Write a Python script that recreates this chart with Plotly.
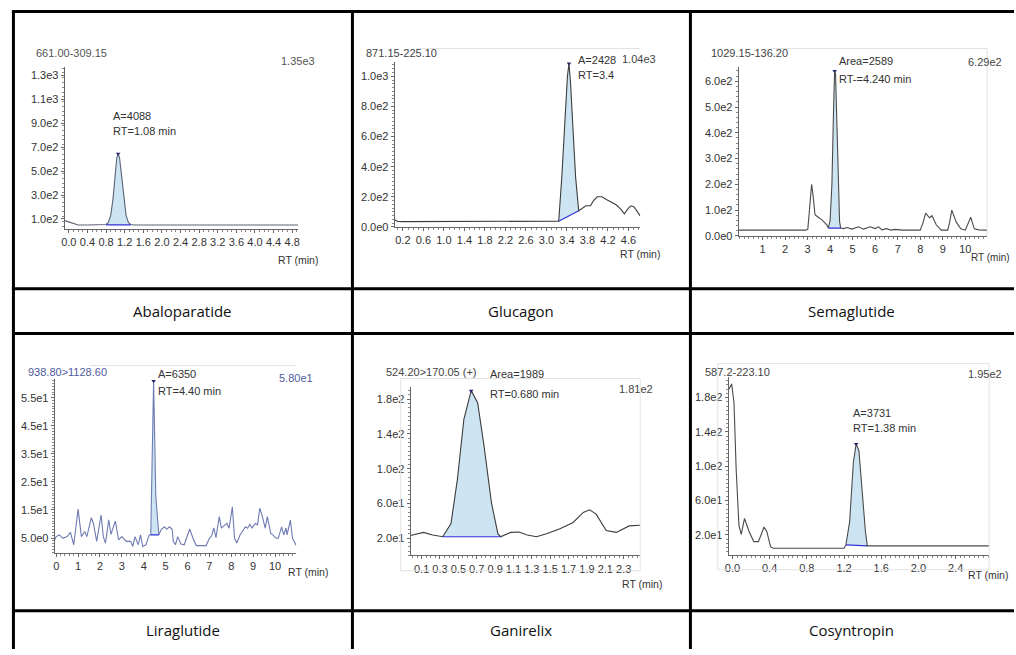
import plotly.graph_objects as go

W, H = 1016, 655

# ---------------- data ----------------
names = ["Abaloparatide", "Glucagon", "Semaglutide", "Liraglutide", "Ganirelix", "Cosyntropin"]
transitions = ["661.00-309.15", "871.15-225.10", "1029.15-136.20", "938.80>1128.60", "524.20>170.05 (+)", "587.2-223.10"]
max_labels = ["1.35e3", "1.04e3", "6.29e2", "5.80e1", "1.81e2", "1.95e2"]
peak_text = [["A=4088", "RT=1.08 min"], ["A=2428", "RT=3.4"], ["Area=2589", "RT-=4.240 min"],
             ["A=6350", "RT=4.40 min"], ["Area=1989", "RT=0.680 min"], ["A=3731", "RT=1.38 min"]]

abalo_rt = [-0.09, 0.0, 0.1, 0.2, 0.4, 0.6, 0.75, 0.80, 0.85, 0.90, 0.95, 1.00, 1.03, 1.06, 1.09, 1.13, 1.18, 1.23,
            1.28, 1.33, 1.40, 1.6, 2.0, 2.4, 2.8, 3.2, 3.6, 4.0, 4.4, 4.8, 4.93]
abalo_int = [86, 75, 60, 50, 50, 50, 50, 54, 71, 130, 270, 474, 609, 645, 609, 474, 270, 130,
             71, 54, 50, 50, 50, 50, 50, 50, 50, 50, 50, 50, 50]

gluc_rt = [0.04, 0.1, 0.2, 0.6, 1.0, 1.4, 1.8, 2.2, 2.6, 3.0, 3.24, 3.30, 3.36, 3.41, 3.44, 3.47, 3.52, 3.57, 3.63,
           3.70, 3.77, 3.86, 3.92, 3.99, 4.08, 4.17, 4.26, 4.36, 4.45, 4.52, 4.60, 4.65, 4.71, 4.77, 4.83]
gluc_int = [48, 36, 35, 35, 35, 35, 35, 35, 35, 35, 38, 330, 700, 1000, 1085, 960, 640, 330, 107,
            122, 140, 140, 175, 200, 200, 182, 165, 147, 118, 87, 125, 140, 133, 100, 73]

sema_rt = [-0.06, 1.0, 2.0, 2.9, 3.01, 3.1, 3.18, 3.25, 3.33, 3.5, 3.63, 3.85, 3.92, 4.00, 4.08, 4.15, 4.20, 4.24,
           4.30, 4.36, 4.42, 4.47, 4.6, 4.75, 4.97, 5.26, 5.48, 5.78, 6.0, 6.15, 6.3, 6.5, 6.7, 6.9, 7.2, 8.0,
           8.12, 8.24, 8.41, 8.52, 8.71, 8.93, 9.22, 9.3, 9.4, 9.6, 9.8, 10.0, 10.12, 10.24, 10.4, 10.6, 10.97]
sema_int = [22, 22, 22, 22, 25, 120, 200, 150, 82, 70, 63, 43, 30, 60, 200, 480, 640, 630,
            420, 150, 55, 30, 28, 32, 26, 35, 26, 35, 28, 35, 23, 28, 22, 25, 22, 22,
            50, 88, 70, 78, 43, 22, 22, 50, 100, 53, 27, 22, 45, 72, 27, 23, 22]

lira_rt = [-0.07, 0.0, 0.15, 0.3, 0.5, 0.65, 0.8, 1.0, 1.15, 1.3, 1.4, 1.6, 1.7, 1.85, 2.05, 2.15, 2.25, 2.4, 2.5,
           2.7, 2.85, 3.0, 3.2, 3.4, 3.5, 3.6, 3.75, 3.85, 3.95, 4.1, 4.25, 4.32, 4.45, 4.55, 4.69, 4.8, 4.95,
           5.05, 5.17, 5.3, 5.35, 5.45, 5.55, 5.7, 5.85, 6.1, 6.25, 6.4, 6.85, 7.0, 7.1, 7.2, 7.3, 7.45, 7.55,
           7.7, 7.8, 7.9, 8.05, 8.15, 8.25, 8.4, 8.5, 8.65, 8.75, 8.85, 8.95, 9.1, 9.2, 9.3, 9.4, 9.55, 9.65,
           9.8, 9.9, 10.05, 10.15, 10.3, 10.4, 10.5, 10.55, 10.7, 10.8, 10.97]
lira_int = [4.4, 5.5, 6.1, 4.9, 5.5, 7.0, 2.6, 15.3, 5.5, 7.3, 5.5, 12.2, 10.2, 3.8, 13.2, 5.5, 3.2, 11.5, 6.3,
            11.0, 4.3, 5.5, 3.8, 3.8, 2.0, 5.5, 2.6, 6.1, 2.0, 2.6, 6.1, 6.1, 61.0, 20.0, 6.1, 8.1, 9.0,
            8.1, 9.0, 8.1, 3.8, 2.6, 5.5, 2.9, 2.6, 8.2, 4.9, 2.3, 2.3, 4.9, 5.7, 8.6, 5.1, 12.6, 8.5,
            9.7, 10.2, 8.5, 16.1, 4.9, 3.2, 6.1, 7.3, 9.0, 8.5, 9.9, 8.6, 10.2, 9.7, 15.6, 13.3, 8.5, 12.6,
            6.7, 6.1, 4.9, 4.9, 9.0, 6.1, 8.5, 6.1, 11.4, 4.9, 2.3]

gani_rt = [-0.02, 0.12, 0.22, 0.33, 0.42, 0.49, 0.56, 0.64, 0.71, 0.78, 0.86, 0.93, 0.96, 1.07, 1.16, 1.25, 1.35,
           1.46, 1.60, 1.75, 1.86, 1.93, 2.00, 2.11, 2.22, 2.36, 2.48]
gani_int = [23, 26.5, 23.4, 21.5, 36.8, 88, 157, 190, 176, 126, 61, 25, 21.5, 26.5, 27, 23.4, 21.5,
            25, 30.5, 38, 49.5, 52.5, 47.6, 28.6, 26.5, 34, 34.8]

cosy_rt = [-0.036, -0.008, 0.017, 0.04, 0.07, 0.095, 0.13, 0.18, 0.23, 0.28, 0.34, 0.37, 0.41, 0.44, 0.8, 1.2,
           1.22, 1.26, 1.30, 1.33, 1.36, 1.39, 1.43, 1.45, 1.6, 2.0, 2.4, 2.76]
cosy_int = [190, 196, 174, 97, 31, 20.5, 39, 23.5, 12, 12, 29, 23.5, 6, 4.2, 4.2, 4.2,
            8.1, 35, 104, 126, 118, 77, 23.5, 7, 7, 7, 7, 7]

series_rt = [abalo_rt, gluc_rt, sema_rt, lira_rt, gani_rt, cosy_rt]
series_int = [abalo_int, gluc_int, sema_int, lira_int, gani_int, cosy_int]

# integration window (start rt, end rt) and baseline intensities at both ends
peak_window = [(0.80, 1.33), (3.24, 3.63), (3.92, 4.47), (4.32, 4.69), (0.33, 0.96), (1.22, 1.45)]
peak_base = [(50, 50), (38, 107), (30, 30), (6.1, 6.1), (21.5, 21.5), (8.1, 7)]

# axis tick values / labels
x_ticks = [[0.0, 0.4, 0.8, 1.2, 1.6, 2.0, 2.4, 2.8, 3.2, 3.6, 4.0, 4.4, 4.8],
           [0.2, 0.6, 1.0, 1.4, 1.8, 2.2, 2.6, 3.0, 3.4, 3.8, 4.2, 4.6],
           [1, 2, 3, 4, 5, 6, 7, 8, 9, 10],
           [0, 1, 2, 3, 4, 5, 6, 7, 8, 9, 10],
           [0.1, 0.3, 0.5, 0.7, 0.9, 1.1, 1.3, 1.5, 1.7, 1.9, 2.1, 2.3],
           [0.0, 0.4, 0.8, 1.2, 1.6, 2.0, 2.4]]
x_tick_text = [["0.0", "0.4", "0.8", "1.2", "1.6", "2.0", "2.4", "2.8", "3.2", "3.6", "4.0", "4.4", "4.8"],
               ["0.2", "0.6", "1.0", "1.4", "1.8", "2.2", "2.6", "3.0", "3.4", "3.8", "4.2", "4.6"],
               ["1", "2", "3", "4", "5", "6", "7", "8", "9", "10"],
               ["0", "1", "2", "3", "4", "5", "6", "7", "8", "9", "10"],
               ["0.1", "0.3", "0.5", "0.7", "0.9", "1.1", "1.3", "1.5", "1.7", "1.9", "2.1", "2.3"],
               ["0.0", "0.4", "0.8", "1.2", "1.6", "2.0", "2.4"]]
y_ticks = [[100, 300, 500, 700, 900, 1100, 1300],
           [0, 200, 400, 600, 800, 1000],
           [0, 100, 200, 300, 400, 500, 600],
           [5, 15, 25, 35, 45, 55],
           [20, 60, 100, 140, 180],
           [20, 60, 100, 140, 180]]
y_tick_text = [["1.0e2", "3.0e2", "5.0e2", "7.0e2", "9.0e2", "1.1e3", "1.3e3"],
               ["0.0e0", "2.0e2", "4.0e2", "6.0e2", "8.0e2", "1.0e3"],
               ["0.0e0", "1.0e2", "2.0e2", "3.0e2", "4.0e2", "5.0e2", "6.0e2"],
               ["5.0e0", "1.5e1", "2.5e1", "3.5e1", "4.5e1", "5.5e1"],
               ["2.0e1", "6.0e1", "1.0e2", "1.4e2", "1.8e2"],
               ["2.0e1", "6.0e1", "1.0e2", "1.4e2", "1.8e2"]]

# ---------------- layout geometry (pixels) ----------------
boxes = [(61, 296, 68, 231), (393, 640, 63, 229), (739, 989, 68, 238),
         (51, 294, 383, 558), (409, 640, 391, 560.5), (729, 991, 380, 560)]
x_ranges = [(-0.09, 4.93), (0.04, 4.83), (-0.06, 10.97), (-0.07, 10.97), (-0.02, 2.48), (-0.04, 2.76)]
y_ranges = [(17, 1366), (0, 1092), (0, 654), (-0.3, 61.5), (0, 193.7), (-3.5, 204.6)]
x_minor = [0.1, 0.1, 0.2, 0.2, 0.05, 0.05]
y_minor = [40, 25, 20, 1, 5, 5]
title_pos = [(30, 53), (362, 53), (709, 53), (22, 375), (382, 375), (703, 375)]
max_pos = [(315, 62), (658, 60), (1006, 63), (313, 381), (655, 393), (1006, 377)]
peak_pos = [(108, 117, 132), (575, 61, 76), (838, 62, 80), (153, 377, 395), (487, 377, 398), (852, 417, 432)]
rt_pos = [(318, 262, "right"), (662, 256, "right"), (1014, 260, "right"),
          (284, 577, "left"), (664, 589, "right"), (1012, 580, "right")]
rt_size = [10.5, 10.5, 10, 10.5, 10.5, 10.5]
label_pos = [(180, 313.5), (520, 313.5), (853, 313.5), (180, 636), (520, 636), (853, 636)]
frames = [None, (415, 640, 49, None), (771, 989, 49, 238), (86, 294, 369, None), (399, 640, 382, 576),
          (718, 991, 367, 575)]

line_colors = ["#5a6275", "#3c3c3c", "#4a4a4a", "#6f7bb3", "#3c3c3c", "#4a4a4a"]
title_colors = ["#555555", "#444444", "#444444", "#4f5b9c", "#444444", "#444444"]

FILL = "rgba(196,224,240,0.85)"
BASE = "#3030d8"
TICKFONT = dict(family="Liberation Sans, Arial, sans-serif", size=11, color="#333333")
LABELFONT = dict(family="Open Sans, Noto Sans, sans-serif", size=15, color="#111111")


def px(x):
    return x / W


def py(y):
    return 1 - y / H


fig = go.Figure()
annotations = []
shapes = []

for i in range(6):
    n = i + 1
    xa = "x" if n == 1 else f"x{n}"
    ya = "y" if n == 1 else f"y{n}"
    rt, inten = series_rt[i], series_int[i]
    s, e = peak_window[i]
    b0, b1 = peak_base[i]

    px_in = [r for r in rt if s <= r <= e]
    py_in = [v for r, v in zip(rt, inten) if s <= r <= e]
    fig.add_trace(go.Scatter(x=px_in + [e, s], y=py_in + [b1, b0], fill="toself", fillcolor=FILL,
                             mode="lines", line=dict(width=0), hoverinfo="skip", showlegend=False,
                             xaxis=xa, yaxis=ya))
    fig.add_trace(go.Scatter(x=rt, y=inten, mode="lines", line=dict(color=line_colors[i], width=1.1),
                             showlegend=False, xaxis=xa, yaxis=ya))
    fig.add_trace(go.Scatter(x=[s, e], y=[b0, b1], mode="lines", line=dict(color=BASE, width=1.2),
                             showlegend=False, xaxis=xa, yaxis=ya))
    k = py_in.index(max(py_in))
    fig.add_trace(go.Scatter(x=[px_in[k]], y=[py_in[k]], mode="markers",
                             marker=dict(symbol="triangle-down", size=4, color="#222266"),
                             showlegend=False, xaxis=xa, yaxis=ya, cliponaxis=False))

    x0, x1, yt, yb = boxes[i]
    axcommon = dict(showline=True, linecolor="#666666", linewidth=1, showgrid=False, zeroline=False,
                    ticks="outside", ticklen=3, tickcolor="#666666", tickfont=TICKFONT, tickmode="array",
                    tickangle=0, fixedrange=True)
    fig.layout[f"xaxis{'' if n == 1 else n}"] = dict(
        axcommon, domain=[px(x0), px(x1)], range=list(x_ranges[i]), anchor=ya,
        tickvals=x_ticks[i], ticktext=x_tick_text[i],
        minor=dict(ticks="outside", ticklen=2, dtick=x_minor[i], tick0=0, tickcolor="#888888"))
    fig.layout[f"yaxis{'' if n == 1 else n}"] = dict(
        axcommon, domain=[py(yb), py(yt)], range=list(y_ranges[i]), anchor=xa,
        tickvals=y_ticks[i], ticktext=y_tick_text[i],
        minor=dict(ticks="outside", ticklen=2, dtick=y_minor[i], tick0=0, tickcolor="#888888"))

    tx, ty = title_pos[i]
    annotations.append(dict(x=px(tx), y=py(ty), xref="paper", yref="paper", text=transitions[i],
                            showarrow=False, xanchor="left", yanchor="middle",
                            font=dict(TICKFONT, color=title_colors[i])))
    mx, my = max_pos[i]
    annotations.append(dict(x=px(mx), y=py(my), xref="paper", yref="paper", text=max_labels[i],
                            showarrow=False, xanchor="right", yanchor="middle",
                            font=dict(TICKFONT, color=title_colors[i])))
    ax_, ay1, ay2 = peak_pos[i]
    annotations.append(dict(x=px(ax_), y=py(ay1), xref="paper", yref="paper", text=peak_text[i][0],
                            showarrow=False, xanchor="left", yanchor="middle", font=TICKFONT))
    annotations.append(dict(x=px(ax_), y=py(ay2), xref="paper", yref="paper", text=peak_text[i][1],
                            showarrow=False, xanchor="left", yanchor="middle", font=TICKFONT))
    rx, ry, ranc = rt_pos[i]
    annotations.append(dict(x=px(rx), y=py(ry), xref="paper", yref="paper", text="RT (min)",
                            showarrow=False, xanchor=ranc, yanchor="middle",
                            font=dict(TICKFONT, size=rt_size[i])))
    lx, ly = label_pos[i]
    annotations.append(dict(x=px(lx), y=py(ly), xref="paper", yref="paper", text=names[i],
                            showarrow=False, xanchor="center", yanchor="middle", font=LABELFONT))

    fr = frames[i]
    if fr is not None:
        fx0, fx1, fy0, fy1 = fr
        shapes.append(dict(type="line", xref="paper", yref="paper", x0=px(fx0), x1=px(fx1), y0=py(fy0),
                           y1=py(fy0), line=dict(color="#e2e2e2", width=1)))
        if fy1 is not None:
            shapes.append(dict(type="line", xref="paper", yref="paper", x0=px(fx1), x1=px(fx1), y0=py(fy0),
                               y1=py(fy1), line=dict(color="#e2e2e2", width=1)))
            if i >= 4:
                shapes.append(dict(type="line", xref="paper", yref="paper", x0=px(fx0), x1=px(fx0),
                                   y0=py(fy0), y1=py(fy1), line=dict(color="#e2e2e2", width=1)))
                shapes.append(dict(type="line", xref="paper", yref="paper", x0=px(fx0), x1=px(fx1),
                                   y0=py(fy1), y1=py(fy1), line=dict(color="#e2e2e2", width=1)))

# table grid
TL = dict(color="#000000", width=3)
for yy in [11.5, 291.5, 336.5, 616.5]:
    shapes.append(dict(type="line", xref="paper", yref="paper", x0=px(8), x1=px(1016), y0=py(yy), y1=py(yy),
                       line=TL))
for xx in [9.5, 350.5, 690.5]:
    shapes.append(dict(type="line", xref="paper", yref="paper", x0=px(xx), x1=px(xx), y0=py(10), y1=py(655),
                       line=TL))

fig.update_layout(width=W, height=H, margin=dict(l=0, r=0, t=0, b=0), paper_bgcolor="white",
                  plot_bgcolor="rgba(0,0,0,0)", showlegend=False, annotations=annotations, shapes=shapes)

fig.write_html("out.html")
